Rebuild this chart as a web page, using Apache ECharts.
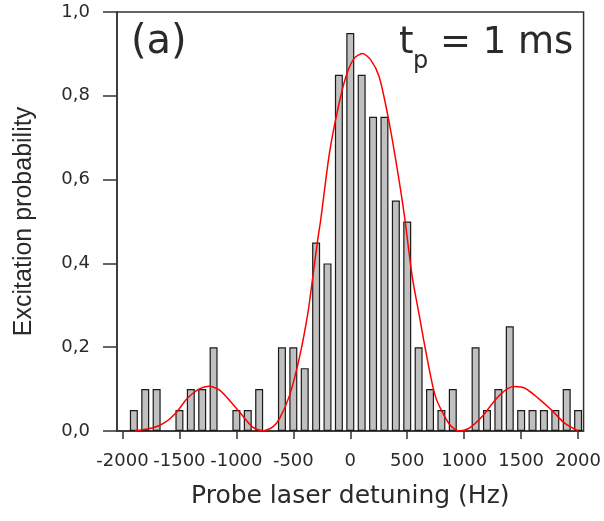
<!DOCTYPE html>
<html>
<head>
<meta charset="utf-8">
<style>
  html, body { margin: 0; padding: 0; background: #fff; }
  #main { width: 604px; height: 521px; }
</style>
<script src="https://cdn.jsdelivr.net/npm/echarts@6.0.0/dist/echarts.min.js"></script>
</head>
<body>
<div id="main"></div>
<script>
// histogram bins (Hz) and measured excitation probability
var detuning = [-1900, -1800, -1700, -1600, -1500, -1400, -1300, -1200, -1100, -1000,
  -900, -800, -700, -600, -500, -400, -300, -200, -100, 0,
  100, 200, 300, 400, 500, 600, 700, 800, 900, 1000,
  1100, 1200, 1300, 1400, 1500, 1600, 1700, 1800, 1900, 2000];
var excitation = [0.05, 0.1, 0.1, 0, 0.05, 0.1, 0.1, 0.2, 0, 0.05,
  0.05, 0.1, 0, 0.2, 0.2, 0.15, 0.45, 0.4, 0.85, 0.95,
  0.85, 0.75, 0.75, 0.55, 0.5, 0.2, 0.1, 0.05, 0.1, 0,
  0.2, 0.05, 0.1, 0.25, 0.05, 0.05, 0.05, 0.05, 0.1, 0.05];

// red fit curve
var fitDetuning = [-1890, -1740, -1640, -1535, -1430, -1330, -1240, -1150, -1050, -950,
  -860, -770, -680, -620, -533, -445, -373, -329, -286, -260,
  -183, -111, -38, 35, 108, 181, 253, 326, 399, 472,
  544, 603, 661, 748, 865, 952, 1039, 1156, 1272, 1374,
  1447, 1534, 1651, 1767, 1884, 2000];
var fitProbability = [0, 0.007, 0.018, 0.042, 0.078, 0.1, 0.107, 0.098, 0.07, 0.038,
  0.01, 0, 0.01, 0.03, 0.085, 0.177, 0.28, 0.368, 0.456, 0.503,
  0.663, 0.766, 0.846, 0.89, 0.901, 0.885, 0.846, 0.758, 0.647, 0.52,
  0.368, 0.28, 0.193, 0.082, 0.018, 0, 0.006, 0.034, 0.074, 0.1,
  0.106, 0.102, 0.078, 0.05, 0.018, 0];

var xTicks = [-2000, -1500, -1000, -500, 0, 500, 1000, 1500, 2000];

var myChart = echarts.init(document.getElementById('main'));

var barData = [];
for (var i = 0; i < detuning.length; i++) {
  if (excitation[i] > 0) barData.push([detuning[i], excitation[i]]);
}
var fitData = fitDetuning.map(function (d, i) { return [d, fitProbability[i]]; });

var axisColor = '#333';
var textColor = '#2a2a2a';

var option = {
  animation: false,
  grid: {
    left: 117, top: 12, width: 469, height: 419,
    show: true, borderColor: axisColor, borderWidth: 1.5
  },
  xAxis: {
    type: 'value',
    min: -2048,
    max: 2048,
    name: 'Probe laser detuning (Hz)',
    nameLocation: 'middle',
    nameGap: 53,
    nameTextStyle: { fontFamily: 'DejaVu Sans', fontSize: 25, color: textColor },
    splitLine: { show: false },
    axisLine: { onZero: false, lineStyle: { color: axisColor, width: 1.5 } },
    axisTick: { customValues: xTicks, length: 8, lineStyle: { color: axisColor, width: 1.5 } },
    axisLabel: {
      customValues: xTicks, margin: 21, hideOverlap: false,
      showMinLabel: true, showMaxLabel: true,
      fontFamily: 'DejaVu Sans', fontSize: 18, color: textColor,
      formatter: function (v) { return String(v); }
    }
  },
  yAxis: {
    type: 'value',
    min: 0,
    max: 1,
    interval: 0.2,
    name: 'Excitation probability',
    nameLocation: 'middle',
    nameGap: 80,
    nameTextStyle: { fontFamily: 'Liberation Sans', fontSize: 25, color: textColor },
    splitLine: { show: false },
    axisLine: { onZero: false, lineStyle: { color: axisColor, width: 1.5 } },
    axisTick: { length: 14, lineStyle: { color: axisColor, width: 1.5 } },
    axisLabel: {
      margin: 27, fontFamily: 'DejaVu Sans', fontSize: 18, color: textColor,
      formatter: function (v) { return v.toFixed(1).replace('.', ','); }
    }
  },
  graphic: [
    { type: 'text', x: 131, y: 43, style: { text: '(a)', font: '40px "DejaVu Sans"', fill: textColor, textAlign: 'left', textVerticalAlign: 'middle' } },
    { type: 'text', x: 399, y: 43, style: { text: 't', font: '37px "DejaVu Sans"', fill: textColor, textAlign: 'left', textVerticalAlign: 'middle' } },
    { type: 'text', x: 413, y: 62, style: { text: 'p', font: '24px "DejaVu Sans"', fill: textColor, textAlign: 'left', textVerticalAlign: 'middle' } },
    { type: 'text', x: 440, y: 43, style: { text: '= 1 ms', font: '37px "DejaVu Sans"', fill: textColor, textAlign: 'left', textVerticalAlign: 'middle' } }
  ],
  series: [
    {
      name: 'measured',
      type: 'bar',
      barWidth: 8,
      data: barData,
      itemStyle: { color: '#c0c0c0', borderColor: '#1a1a1a', borderWidth: 1.2 }
    },
    {
      name: 'fit',
      type: 'line',
      data: fitData,
      smooth: 0.25,
      showSymbol: false,
      lineStyle: { color: '#ff0000', width: 1.5 }
    }
  ]
};

myChart.setOption(option);
</script>
</body>
</html>
